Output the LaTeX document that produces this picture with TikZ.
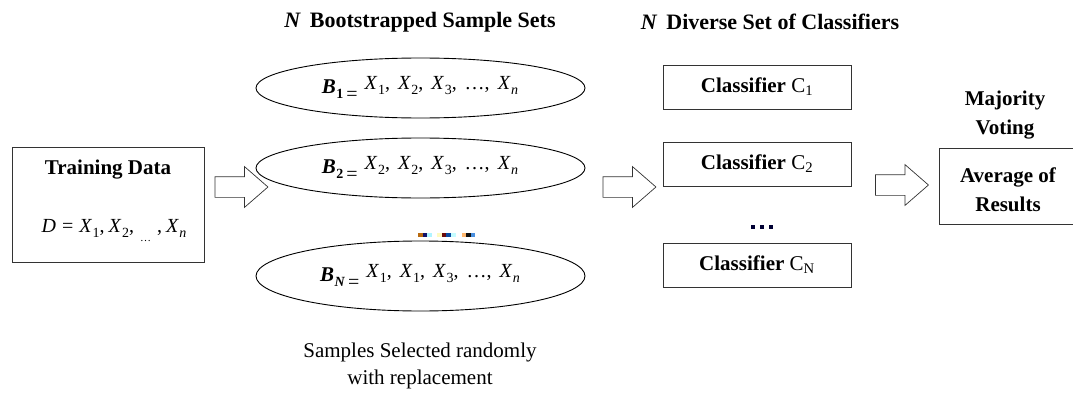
\documentclass[tikz,border=0pt]{standalone}
\usepackage{fontspec}
\setmainfont{Liberation Serif}
\usetikzlibrary{shapes.geometric,shapes.arrows}

% formula pieces: variable with lowered subscript
\newcommand{\sbx}[1]{\raisebox{-5pt}{\fontsize{14}{14}\selectfont #1}}
\newcommand{\vX}[1]{\textit{X}\kern0.5pt\sbx{#1}}
% one bootstrapped set: B_k = X_a, X_b, X_c, ..., X_n
\newcommand{\setrow}[4]{%
  {\fontsize{21}{22}\selectfont\textbf{\textit{B}}}\kern0.5pt\sbx{\bfseries #1}\kern3pt\raisebox{-7pt}{=}\kern7pt
  \raisebox{4pt}{\vX{#2},\hspace{8pt}\vX{#3},\hspace{8pt}\vX{#4},\hspace{8pt}\dots,\hspace{8pt}\vX{\textit{n}}}}

\begin{document}
\begin{tikzpicture}[x=1pt,y=1pt,
  heading/.style={inner sep=0pt, font=\fontsize{22}{26}\selectfont\bfseries},
  plain/.style={inner sep=0pt, align=center, font=\fontsize{21}{27}\selectfont},
  boldlbl/.style={inner sep=0pt, align=center, font=\fontsize{21}{29}\selectfont\bfseries},
  formula/.style={inner sep=0pt, font=\fontsize{20}{22}\selectfont},
  setell/.style={ellipse, draw, line width=0.9pt, minimum width=329pt, inner sep=0pt},
  framebox/.style={draw=black!80, line width=0.9pt, inner sep=0pt},
  clsbox/.style={framebox, minimum width=188pt, minimum height=44pt,
    font=\fontsize{21}{24}\selectfont\bfseries},
  blockarr/.style={single arrow, draw=black!80, fill=white, line width=0.7pt,
    minimum height=53pt, inner xsep=0pt, inner ysep=10pt,
    single arrow head extend=10pt, single arrow tip angle=82,
    single arrow head indent=0pt},
  dotsq/.style={inner sep=0pt, minimum size=4.5pt}
]
\useasboundingbox (0,0) rectangle (1073,400);
\clip (0,0) rectangle (1073,400);

% column headings
\node[heading] (h1) at (420,378) {\textit{N}\hspace{9pt}Bootstrapped Sample Sets};
\node[heading] (h2) at (770,378) {\textit{N}\hspace{9pt}Diverse Set of Classifiers};

% training data
\node[framebox, minimum width=192pt, minimum height=115pt] (train) at (108,195.5) {};
\node[boldlbl] (trainlbl) at (108,230) {Training Data};
\node[formula] (trainf) at (114,169) {\textit{D}\kern6pt=\kern6pt\vX{1},\kern4pt\vX{2},\kern6pt\raisebox{-9pt}{\fontsize{11}{11}\selectfont\dots}\kern6pt,\kern4pt\vX{\textit{n}}};

% bootstrapped sample sets
\node[setell, minimum height=60pt] (b1) at (420.5,312) {};
\node[formula] (b1f) at (420,312) {\setrow{1}{1}{2}{3}};
\node[setell, minimum height=60pt] (b2) at (420.5,232) {};
\node[formula] (b2f) at (420,232) {\setrow{2}{2}{2}{3}};
\node[setell, minimum height=70pt] (bn) at (420.5,124) {};
\node[formula] (bnf) at (420,124) {\setrow{\textit{N}}{1}{1}{3}};

% ellipsis between the sets
\fill[fill={rgb,255:red,184;green,106;blue,16}]  (418,163) rectangle (422.7,167.5);
\fill[fill={rgb,255:red,16;green,16;blue,106}]   (422.7,163) rectangle (427.4,167.5);
\fill[fill={rgb,255:red,176;green,244;blue,255}] (427.4,163) rectangle (432,167.5);
\fill[fill={rgb,255:red,255;green,250;blue,192}] (437,163) rectangle (441.7,167.5);
\fill[fill={rgb,255:red,106;green,10;blue,10}]   (441.7,163) rectangle (446.4,167.5);
\fill[fill={rgb,255:red,10;green,74;blue,160}]   (446.4,163) rectangle (451.1,167.5);
\fill[fill={rgb,255:red,196;green,252;blue,255}] (451.1,163) rectangle (456,167.5);
\fill[fill={rgb,255:red,255;green,184;blue,112}] (462,163) rectangle (466.3,167.5);
\fill[fill={rgb,255:red,16;green,16;blue,16}]    (466.3,163) rectangle (470.6,167.5);
\fill[fill={rgb,255:red,74;green,144;blue,224}]  (470.6,163) rectangle (475,167.5);

\node[plain] (note) at (420,34) {Samples Selected randomly\\with replacement};

% classifiers
\node[clsbox] (c1) at (757,313) {Classifier \mdseries C\textsubscript{1}};
\node[clsbox] (c2) at (757,236) {Classifier \mdseries C\textsubscript{2}};
\node[clsbox] (cn) at (757,135) {Classifier \mdseries C\textsubscript{N}};
\node[dotsq, fill=black!80!blue] (d1) at (753,173) {};
\node[dotsq, fill=black!80!blue] (d2) at (762,173) {};
\node[dotsq, fill=black!80!blue] (d3) at (771,173) {};

% combination
\node[boldlbl] (vote) at (1005,285) {Majority\\Voting};
\node[framebox, minimum width=138pt, minimum height=76pt] (avg) at (1008,214) {};
\node[boldlbl] (avglbl) at (1008,210) {Average of\\Results};

% block arrows between the stages
\node[blockarr] (a1) at (235.5,213) {};
\node[blockarr] (a2) at (623.5,213) {};
\node[blockarr] (a3) at (896,215) {};
\end{tikzpicture}
\end{document}
